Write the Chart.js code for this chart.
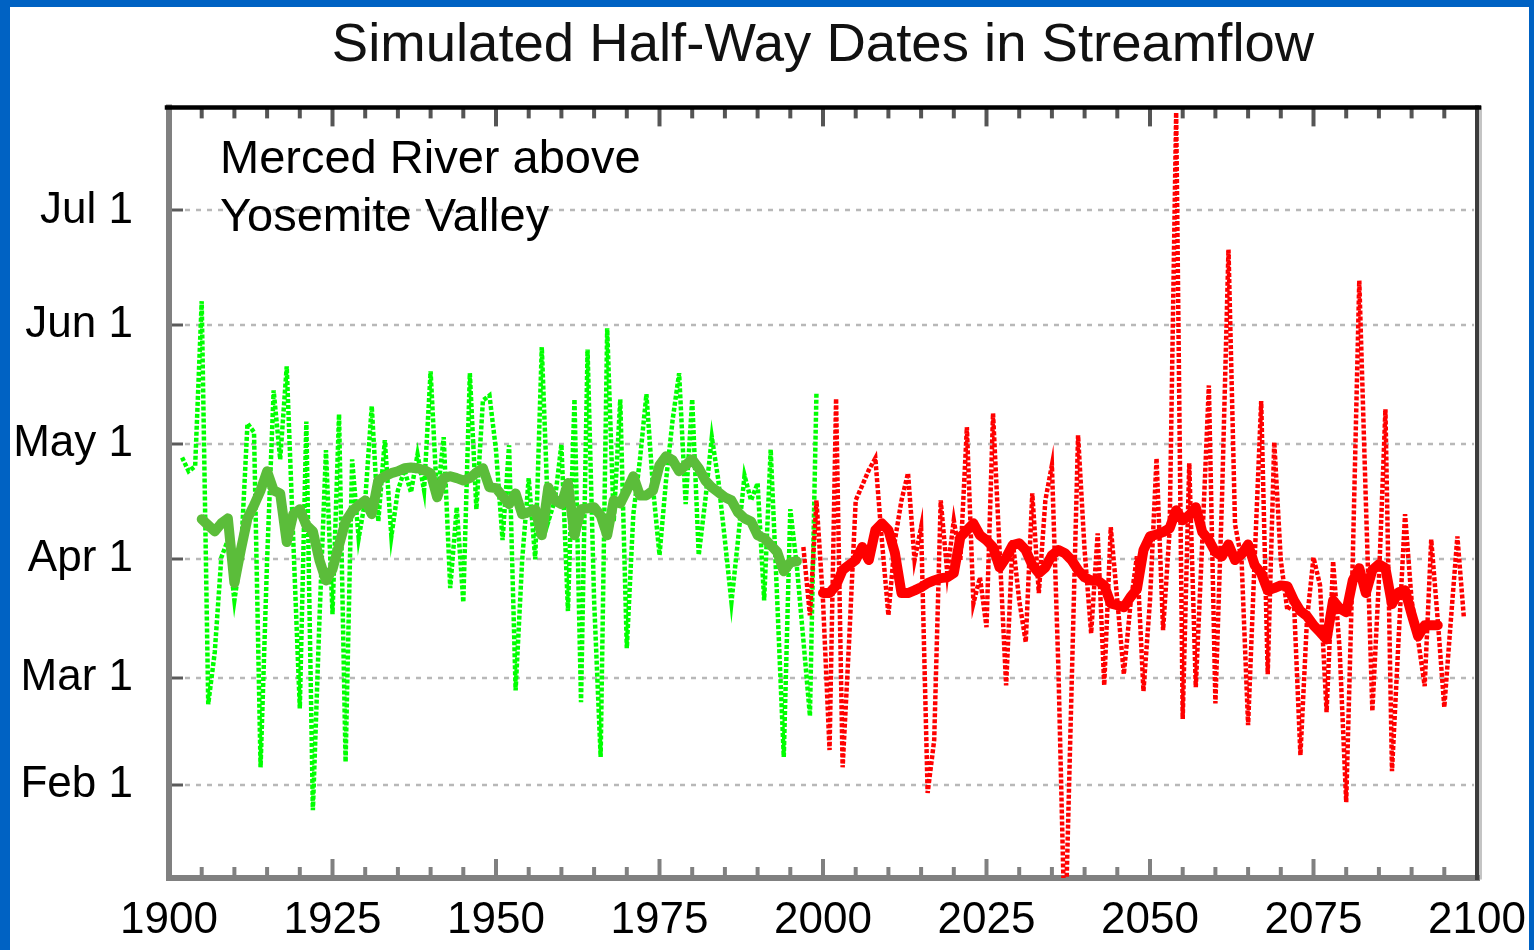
<!DOCTYPE html>
<html>
<head>
<meta charset="utf-8">
<title>Simulated Half-Way Dates in Streamflow</title>
<script src="https://cdn.jsdelivr.net/npm/chart.js@4.4.1/dist/chart.umd.min.js"></script>
<style>
  html, body { margin: 0; padding: 0; background: #fff; }
  #wrap { position: relative; width: 1534px; height: 950px; overflow: hidden; background: #fff; }
  #c { position: absolute; left: 0; top: 0; }
  #frame {
    position: absolute; left: 0; top: 0; width: 1534px; height: 950px;
    box-sizing: border-box; pointer-events: none;
    border-left: 10px solid #0062c3; border-top: 7px solid #0062c3; border-right: 5px solid #0062c3;
  }
</style>
</head>
<body>
<div id="wrap">
  <canvas id="c" width="1534" height="950"></canvas>
  <div id="frame"></div>
</div>
<script>
// Half-way date of annual streamflow, as day of year (Feb 1 = 32, Jul 1 = 182)

// Historical simulation, one value per year starting 1902
const histStartYear = 1902;
const histHalfway = [
  117.5, 113.9, 115.2, 158.3, 53.1, 66.7, 91.4, 95.9, 80.2, 92.0,
  126.4, 124.1, 36.6, 90.7, 135.0, 117.0, 141.3, 95.9, 52.0, 126.9,
  25.4, 75.0, 119.4, 76.6, 128.8, 38.0, 117.0, 96.4, 106.3, 130.9,
  100.8, 122.0, 96.9, 108.9, 114.2, 108.4, 118.3, 108.9, 140.0, 106.3,
  122.8, 83.4, 104.5, 79.7, 139.5, 104.0, 132.4, 133.7, 119.4, 95.9,
  120.7, 56.7, 90.7, 112.1, 90.9, 146.3, 100.8, 106.3, 120.9, 77.4,
  132.7, 53.6, 145.7, 80.2, 39.3, 151.2, 100.8, 132.7, 67.7, 102.7,
  116.8, 134.0, 109.7, 92.0, 111.5, 127.2, 139.5, 105.3, 132.7, 92.0,
  106.3, 122.8, 111.5, 95.9, 79.7, 95.9, 112.8, 106.3, 110.8, 80.2,
  119.6, 80.2, 39.3, 104.0, 89.1, 69.8, 50.0, 134.5
];

// Historical running mean, starting 1905
const histSmoothStartYear = 1905;
const histSmooth = [
  101.4, 99.8, 98.2, 100.3, 101.6, 84.7, 93.5, 101.6, 105.0, 108.9,
  113.9, 108.9, 108.1, 95.4, 102.7, 104.0, 99.8, 98.2, 90.7, 85.4,
  88.3, 94.6, 100.8, 103.5, 105.0, 106.3, 102.7, 111.5, 112.6, 113.4,
  113.9, 114.7, 114.9, 114.7, 114.2, 113.4, 107.1, 112.1, 112.6, 112.1,
  111.5, 112.1, 113.6, 114.7, 109.7, 109.5, 107.4, 105.3, 108.1, 102.7,
  103.2, 104.0, 97.2, 109.7, 106.3, 105.3, 110.8, 97.2, 104.0, 104.2,
  104.5, 102.4, 97.2, 106.3, 105.5, 108.9, 112.6, 107.6, 107.6, 108.9,
  115.5, 117.8, 116.8, 113.9, 115.5, 117.0, 114.7, 111.5, 109.7, 108.4,
  107.1, 106.3, 103.2, 101.6, 100.8, 97.2, 96.4, 94.6, 92.8, 87.8,
  90.1, 90.4
];

// Projected simulation, one value per year starting 1997
const projStartYear = 1997;
const projHalfway = [
  94.1, 76.3, 106.3, 80.2, 41.1, 132.9, 36.6, 69.8, 106.3, 110.2,
  114.2, 117.3, 95.9, 76.3, 95.9, 106.3, 113.4, 90.7, 99.3, 29.9,
  43.7, 106.3, 87.3, 101.1, 90.7, 125.4, 79.4, 86.2, 73.2, 129.0,
  93.3, 58.0, 95.9, 80.2, 69.3, 108.1, 82.1, 106.3, 115.5, 62.0,
  -9.8, 56.7, 123.3, 93.3, 71.6, 97.7, 58.0, 99.3, 80.2, 60.9,
  78.9, 91.7, 56.5, 80.2, 117.3, 72.4, 98.5, 207.6, 49.2, 116.0,
  57.5, 95.9, 136.3, 53.3, 106.3, 171.8, 100.1, 90.7, 47.6, 90.7,
  132.2, 60.9, 121.5, 90.7, 77.6, 80.2, 39.8, 75.0, 91.4, 84.1,
  51.0, 90.4, 67.2, 27.5, 90.7, 163.7, 106.3, 51.3, 85.4, 130.1,
  35.6, 69.8, 102.7, 80.2, 69.8, 57.8, 96.1, 75.0, 52.3, 75.0,
  96.9, 75.5
];

// Projected running mean, starting 2000
const projSmoothStartYear = 2000;
const projSmooth = [
  82.1, 82.1, 84.1, 88.1, 89.4, 90.7, 94.1, 90.7, 98.5, 100.3,
  98.5, 92.5, 82.1, 82.1, 82.8, 83.6, 84.7, 85.4, 86.0, 86.2,
  87.3, 96.7, 98.5, 100.3, 97.2, 95.9, 94.1, 88.8, 91.4, 94.6,
  95.1, 93.3, 89.4, 87.3, 88.8, 92.0, 93.3, 92.5, 90.7, 88.1,
  86.2, 85.4, 85.4, 84.1, 79.4, 78.9, 78.4, 81.0, 83.1, 93.3,
  96.9, 97.4, 98.0, 99.0, 103.7, 101.1, 102.4, 104.5, 98.0, 95.9,
  92.8, 91.7, 94.8, 90.7, 92.2, 94.8, 89.4, 87.3, 82.8, 83.4,
  84.1, 83.9, 80.2, 77.4, 76.1, 73.7, 71.9, 70.0, 80.2, 78.1,
  77.1, 85.4, 88.6, 82.1, 88.1, 89.6, 88.6, 79.2, 82.3, 82.8,
  76.6, 70.8, 73.7, 73.7, 73.7
];

// Axis ticks
const yearTicks = [1900, 1925, 1950, 1975, 2000, 2025, 2050, 2075, 2100];
const monthTicks = [32, 60, 91, 121, 152, 182];
const monthLabels = ['Feb 1', 'Mar 1', 'Apr 1', 'May 1', 'Jun 1', 'Jul 1'];

const titleText = 'Simulated Half-Way Dates in Streamflow';
const noteLines = ['Merced River above', 'Yosemite Valley'];

const FONT = '"Liberation Sans", Arial, Helvetica, sans-serif';
const DAY_MIN = 7.7;
const DAY_MAX = 208.9;
const YEAR_MIN = 1900;
const YEAR_MAX = 2100;
const MINOR_YEAR_STEP = 5;

function toPoints(startYear, values) {
  return values.map((v, i) => ({ x: startYear + i, y: v }));
}

// Plot frame, inward ticks, dotted grid and the station note
const decor = {
  id: 'decor',
  beforeDatasetsDraw(chart) {
    const { ctx, chartArea: a, scales: { x, y } } = chart;
    ctx.save();

    // dotted horizontal grid
    ctx.strokeStyle = '#b8b8b8';
    ctx.lineWidth = 2.5;
    ctx.setLineDash([5, 6]);
    monthTicks.forEach(v => {
      const py = Math.round(y.getPixelForValue(v));
      ctx.beginPath();
      ctx.moveTo(a.left + 16, py);
      ctx.lineTo(a.right - 3, py);
      ctx.stroke();
    });
    ctx.setLineDash([]);

    // inward ticks on the date axis
    ctx.strokeStyle = '#5a5a5a';
    ctx.lineWidth = 3;
    monthTicks.forEach(v => {
      const py = Math.round(y.getPixelForValue(v));
      ctx.beginPath();
      ctx.moveTo(a.left, py);
      ctx.lineTo(a.left + 14, py);
      ctx.stroke();
    });

    // inward ticks on the year axis, top and bottom
    ctx.lineWidth = 4;
    for (let yr = YEAR_MIN; yr <= YEAR_MAX; yr += MINOR_YEAR_STEP) {
      const px = x.getPixelForValue(yr);
      const major = yearTicks.includes(yr);
      const len = major ? 19 : 11;
      ctx.strokeStyle = '#555';
      ctx.beginPath();
      ctx.moveTo(px, a.top);
      ctx.lineTo(px, a.top + len);
      ctx.stroke();
      ctx.strokeStyle = '#808080';
      ctx.beginPath();
      ctx.moveTo(px, a.bottom);
      ctx.lineTo(px, a.bottom - len);
      ctx.stroke();
    }

    // frame
    ctx.lineCap = 'square';
    ctx.strokeStyle = '#c4c4c4';
    ctx.lineWidth = 3;
    ctx.beginPath(); ctx.moveTo(a.right + 3.5, a.top); ctx.lineTo(a.right + 3.5, a.bottom); ctx.stroke();
    ctx.strokeStyle = '#808080';
    ctx.lineWidth = 6;
    ctx.beginPath(); ctx.moveTo(a.left, a.top); ctx.lineTo(a.left, a.bottom); ctx.stroke();
    ctx.beginPath(); ctx.moveTo(a.left, a.bottom); ctx.lineTo(a.right, a.bottom); ctx.stroke();
    ctx.strokeStyle = '#3c3c3c';
    ctx.lineWidth = 4;
    ctx.beginPath(); ctx.moveTo(a.right, a.top); ctx.lineTo(a.right, a.bottom); ctx.stroke();
    ctx.strokeStyle = '#000';
    ctx.lineWidth = 4.5;
    ctx.beginPath(); ctx.moveTo(a.left - 2, a.top); ctx.lineTo(a.right + 2, a.top); ctx.stroke();

    // station note
    ctx.fillStyle = '#000';
    ctx.font = '47px ' + FONT;
    ctx.textAlign = 'left';
    ctx.textBaseline = 'alphabetic';
    ctx.fillText(noteLines[0], a.left + 51, a.top + 66);
    ctx.fillText(noteLines[1], a.left + 51, a.top + 124);

    ctx.restore();
  }
};

const dotted = { borderWidth: 4.5, borderDash: [4, 2], pointRadius: 0, tension: 0, fill: false };
const thick = { borderWidth: 10, pointRadius: 0, tension: 0, fill: false, borderJoinStyle: 'round', borderCapStyle: 'round' };

new Chart(document.getElementById('c'), {
  type: 'line',
  data: {
    datasets: [
      Object.assign({ label: 'Historical', data: toPoints(histStartYear, histHalfway), borderColor: '#00ff00', order: 4 }, dotted),
      Object.assign({ label: 'Historical mean', data: toPoints(histSmoothStartYear, histSmooth), borderColor: '#5bbd3a', order: 3 }, thick),
      Object.assign({ label: 'Projected', data: toPoints(projStartYear, projHalfway), borderColor: '#ff0000', order: 2 }, dotted),
      Object.assign({ label: 'Projected mean', data: toPoints(projSmoothStartYear, projSmooth), borderColor: '#ff0000', order: 1 }, thick)
    ]
  },
  options: {
    responsive: false,
    animation: false,
    devicePixelRatio: 1,
    layout: { padding: { left: 0, right: 57, top: 0, bottom: 0 } },
    plugins: {
      legend: { display: false },
      tooltip: { enabled: false },
      title: {
        display: true,
        text: titleText,
        fullSize: false,
        color: '#111',
        font: { family: FONT, size: 54.5, weight: 'normal', lineHeight: 1.2 },
        padding: { top: 13, bottom: 29 }
      }
    },
    scales: {
      x: {
        type: 'linear',
        min: YEAR_MIN,
        max: YEAR_MAX,
        afterBuildTicks: s => { s.ticks = yearTicks.map(v => ({ value: v })); },
        afterFit: s => { s.height = 72; s.paddingLeft = 0; s.paddingRight = 0; },
        grid: { display: false, drawTicks: false },
        border: { display: false },
        ticks: {
          autoSkip: false, maxRotation: 0, minRotation: 0,
          padding: 16, color: '#000',
          font: { family: FONT, size: 44 },
          callback: v => String(v)
        }
      },
      y: {
        min: DAY_MIN,
        max: DAY_MAX,
        afterBuildTicks: s => { s.ticks = monthTicks.map(v => ({ value: v })); },
        afterFit: s => { s.width = 169; s.paddingTop = 0; s.paddingBottom = 0; },
        grid: { display: false, drawTicks: false },
        border: { display: false },
        ticks: {
          padding: 36, color: '#000',
          font: { family: FONT, size: 44 },
          callback: v => monthLabels[monthTicks.indexOf(v)]
        }
      }
    }
  },
  plugins: [decor]
});
</script>
</body>
</html>
